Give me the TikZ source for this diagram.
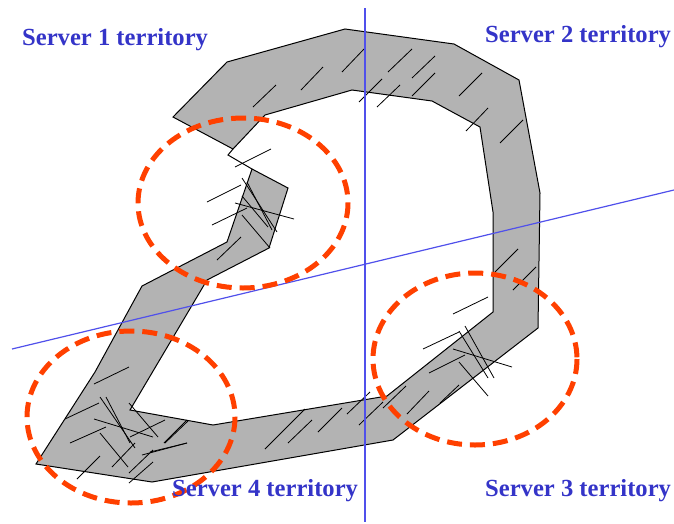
\documentclass[tikz,border=0pt]{standalone}
\usepackage{fontspec}
\setmainfont{Liberation Serif}
\definecolor{bandgray}{RGB}{179,179,179}
\definecolor{lineblue}{RGB}{80,80,235}
\definecolor{textblue}{RGB}{52,52,200}
\definecolor{zonered}{RGB}{255,64,0}
\begin{document}
\begin{tikzpicture}[x=1pt,y=-1pt,
  band/.style={fill=bandgray, draw=black, line width=1pt, line join=miter},
  hatch/.style={black, line width=0.8pt},
  border/.style={draw=lineblue, line width=1.2pt},
  zone/.style={draw=zonered, line width=5pt, dash pattern=on 15pt off 8pt},
  territory/.style={text=textblue, font=\fontsize{24.6}{28}\selectfont\bfseries, inner sep=0pt, anchor=base west}]
\useasboundingbox (0,0) rectangle (674,523);

% the shaded band (a C-shaped loop whose ends almost meet)
\draw[band] (173,117) -- (227,62) -- (345,29) -- (454,44) -- (519,80)
  -- (540,193) -- (538,328) -- (393,440) -- (152,482) -- (36,464)
  -- (95,372) -- (142,286) -- (227,242) -- (252,169) -- (288,188)
  -- (269,248) -- (207,280) -- (130,410) -- (213,425) -- (387,396)
  -- (493,312) -- (493,212) -- (480,127) -- (432,101) -- (352,90)
  -- (265,115) -- (233,149) -- cycle;
\coordinate (tipA) at (233,149);
\coordinate (tipB) at (228,155);
\coordinate (tipC) at (252,169);
\draw[black, line width=1pt] (tipA) -- (tipB) -- (tipC);

% short strokes over the band
\foreach \ax/\ay/\bx/\by in {
  253/107/276/85, 301/90/323/67, 342/72/364/49, 359/102/382/79,
  377/107/400/85, 388/72/412/49, 412/96/435/73, 412/78/435/56,
  459/96/482/73, 466/131/488/108, 500/143/523/120,
  495/272/518/249, 513/290/536/267,
  453/314/488/297, 423/349/459/332, 429/373/465/355, 453/349/512/367,
  459/331/488/378, 465/326/494/378, 459/362/488/396,
  407/414/429/391, 440/403/459/385, 383/408/406/386, 359/425/383/402,
  347/414/370/392, 318/432/342/408, 288/443/312/420, 265/449/305/409,
  165/443/188/421, 150/452/187/443,
  235/167/271/149, 207/202/241/185, 212/225/247/208, 235/203/294/219,
  242/178/277/232, 247/182/272/230, 242/196/268/227, 242/215/270/248,
  217/260/241/237,
  94/384/129/367, 65/419/99/403, 70/443/106/427, 94/419/153/437,
  100/397/135/448, 106/397/130/443, 100/433/128/467, 129/403/158/437,
  130/437/165/420, 112/467/135/443, 129/473/153/450, 129/483/153/462,
  142/455/187/443, 164/443/187/420, 77/479/100/456}
  \draw[hatch] (\ax,\ay) -- (\bx,\by);

% territory boundaries
\coordinate (vtop) at (365,8);
\coordinate (vbot) at (365,522);
\coordinate (dleft) at (12,349);
\coordinate (dright) at (674,190);
\draw[border] (vtop) -- (vbot);
\draw[border] (dleft) -- (dright);

% dashed zones
\draw[zone] (243,203) ellipse [x radius=105, y radius=85];
\draw[zone] (131,417) ellipse [x radius=104, y radius=86];
\draw[zone] (475,359) ellipse [x radius=102, y radius=86];

% labels
\node[territory] (s1) at (22,45) {Server 1 territory};
\node[territory] (s2) at (485,42) {Server 2 territory};
\node[territory] (s4) at (172,496) {Server 4 territory};
\node[territory] (s3) at (485,496) {Server 3 territory};
\end{tikzpicture}
\end{document}
